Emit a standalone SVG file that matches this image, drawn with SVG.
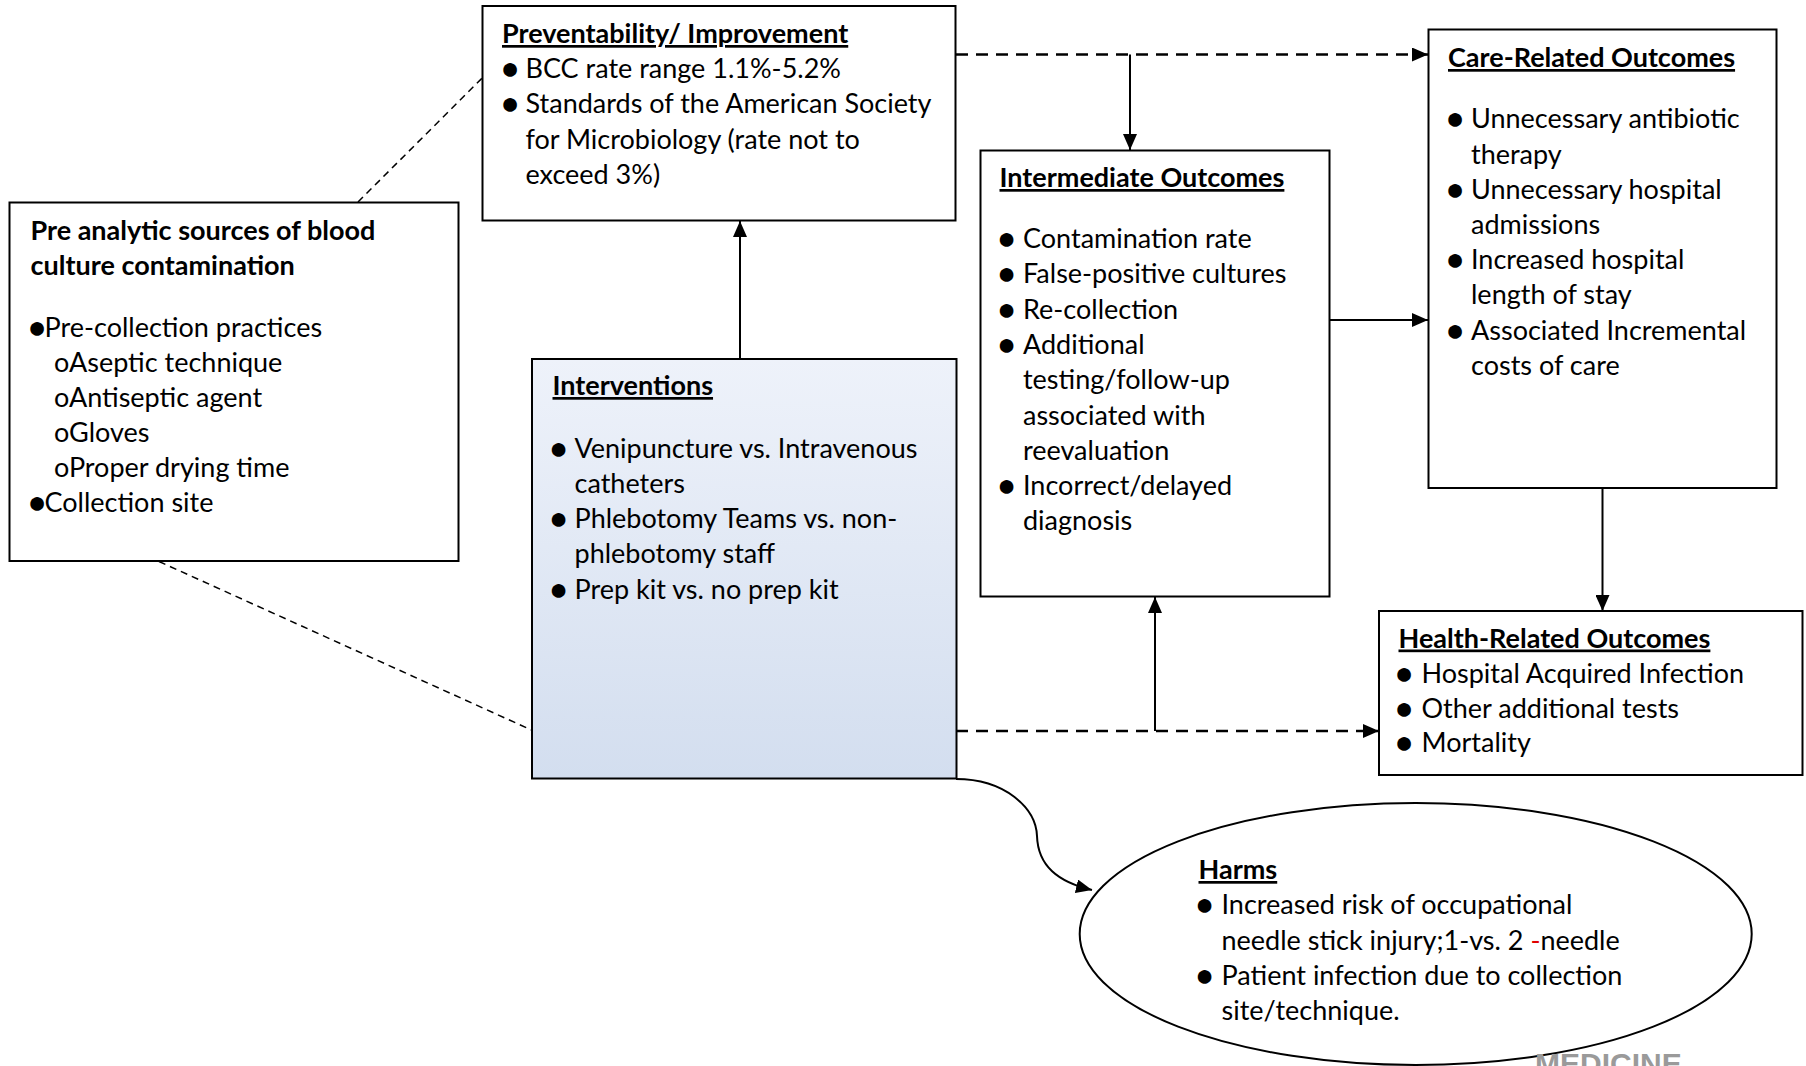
<svg xmlns="http://www.w3.org/2000/svg" width="1806" height="1066" viewBox="0 0 1806 1066">
  <style>
    .box { fill: #ffffff; stroke: #000000; stroke-width: 2; }
    .t { font-family: Lato, "Liberation Sans", sans-serif; font-size: 27px; fill: #000000; }
    .bl { font-family: Lato, "Liberation Sans", sans-serif; font-size: 27px; fill: #000000; stroke: #000000; stroke-width: 3.6; text-anchor: middle; }
    .b { font-weight: bold; }
    .u { text-decoration: underline; }
    .solid { stroke: #000000; stroke-width: 2; fill: none; }
    .dash { stroke: #000000; stroke-width: 2.5; stroke-dasharray: 12 8; fill: none; }
    .dot { stroke: #000000; stroke-width: 1.5; stroke-dasharray: 7 5; fill: none; }
  </style>
  <defs>
    <linearGradient id="intFill" x1="0" y1="0" x2="0" y2="1">
      <stop offset="0" stop-color="#eef2fa"/>
      <stop offset="1" stop-color="#d3deef"/>
    </linearGradient>
    <marker id="arrow" viewBox="0 0 16 14" refX="16" refY="7" markerWidth="16" markerHeight="14" markerUnits="userSpaceOnUse" orient="auto">
      <path d="M0,0 L16,7 L0,14 Z" fill="#000000"/>
    </marker>
  </defs>

  <!-- connectors -->
  <g id="connectors">
    <line class="dash" x1="956" y1="54.5" x2="1428" y2="54.5" marker-end="url(#arrow)"/>
    <line class="solid" x1="1130" y1="54.5" x2="1130" y2="150" marker-end="url(#arrow)"/>
    <line class="solid" x1="740" y1="359" x2="740" y2="221" marker-end="url(#arrow)"/>
    <line class="dot" x1="358" y1="202" x2="482.5" y2="77.7"/>
    <line class="dot" x1="159" y1="561.5" x2="531.5" y2="730"/>
    <line class="dash" x1="956" y1="731" x2="1379" y2="731" marker-end="url(#arrow)"/>
    <line class="solid" x1="1155" y1="731" x2="1155" y2="597" marker-end="url(#arrow)"/>
    <line class="solid" x1="1329" y1="320" x2="1428" y2="320" marker-end="url(#arrow)"/>
    <line class="solid" x1="1602.5" y1="488" x2="1602.5" y2="611" marker-end="url(#arrow)"/>
    <path class="solid" d="M956,779 C1005,779 1036,808 1037,836 C1038,866 1058,882 1092,890" marker-end="url(#arrow)"/>
  </g>

  <!-- Preventability / Improvement -->
  <g id="preventability">
    <rect class="box" x="482.5" y="6" width="473" height="214.5"/>
    <text class="t b u" x="502" y="43">Preventability/ Improvement</text>
    <text class="bl" x="510" y="78">•</text>
    <text class="t" x="525.5" y="78">BCC rate range 1.1%-5.2%</text>
    <text class="bl" x="510" y="113">•</text>
    <text class="t" x="525.5" y="113">Standards of the American Society</text>
    <text class="t" x="525.5" y="148.5">for Microbiology (rate not to</text>
    <text class="t" x="525.5" y="183.5">exceed 3%)</text>
  </g>

  <!-- Pre analytic sources -->
  <g id="preanalytic">
    <rect class="box" x="9.5" y="202.5" width="449" height="358.5"/>
    <text class="t b" x="30.5" y="240">Pre analytic sources of blood</text>
    <text class="t b" x="30.5" y="275">culture contamination</text>
    <text class="bl" x="37" y="336.7">•</text>
    <text class="t" x="44.5" y="336.7">Pre-collection practices</text>
    <text class="t" x="54" y="371.7">oAseptic technique</text>
    <text class="t" x="54" y="406.7">oAntiseptic agent</text>
    <text class="t" x="54" y="441.7">oGloves</text>
    <text class="t" x="54" y="476.7">oProper drying time</text>
    <text class="bl" x="37" y="511.7">•</text>
    <text class="t" x="44.5" y="511.7">Collection site</text>
  </g>

  <!-- Interventions -->
  <g id="interventions">
    <rect x="532" y="359" width="424.5" height="419.5" fill="url(#intFill)" stroke="#000000" stroke-width="2"/>
    <text class="t b u" x="552.5" y="395">Interventions</text>
    <text class="bl" x="558.5" y="458">•</text>
    <text class="t" x="574.5" y="458">Venipuncture vs. Intravenous</text>
    <text class="t" x="574.5" y="493">catheters</text>
    <text class="bl" x="558.5" y="528">•</text>
    <text class="t" x="574.5" y="528">Phlebotomy Teams vs. non-</text>
    <text class="t" x="574.5" y="563">phlebotomy staff</text>
    <text class="bl" x="558.5" y="598.5">•</text>
    <text class="t" x="574.5" y="598.5">Prep kit vs. no prep kit</text>
  </g>

  <!-- Intermediate Outcomes -->
  <g id="intermediate">
    <rect class="box" x="980.5" y="150.5" width="349" height="446"/>
    <text class="t b u" x="999.5" y="187">Intermediate Outcomes</text>
    <text class="bl" x="1006.5" y="248">•</text>
    <text class="t" x="1023" y="248">Contamination rate</text>
    <text class="bl" x="1006.5" y="283">•</text>
    <text class="t" x="1023" y="283">False-positive cultures</text>
    <text class="bl" x="1006.5" y="318.5">•</text>
    <text class="t" x="1023" y="318.5">Re-collection</text>
    <text class="bl" x="1006.5" y="354">•</text>
    <text class="t" x="1023" y="354">Additional</text>
    <text class="t" x="1023" y="389">testing/follow-up</text>
    <text class="t" x="1023" y="424.5">associated with</text>
    <text class="t" x="1023" y="459.5">reevaluation</text>
    <text class="bl" x="1006.5" y="494.5">•</text>
    <text class="t" x="1023" y="494.5">Incorrect/delayed</text>
    <text class="t" x="1023" y="529.5">diagnosis</text>
  </g>

  <!-- Care-Related Outcomes -->
  <g id="care">
    <rect class="box" x="1428.5" y="29.5" width="348" height="458.5"/>
    <text class="t b u" x="1448" y="67">Care-Related Outcomes</text>
    <text class="bl" x="1455" y="128">•</text>
    <text class="t" x="1471" y="128">Unnecessary antibiotic</text>
    <text class="t" x="1471" y="163.5">therapy</text>
    <text class="bl" x="1455" y="198.5">•</text>
    <text class="t" x="1471" y="198.5">Unnecessary hospital</text>
    <text class="t" x="1471" y="233.5">admissions</text>
    <text class="bl" x="1455" y="269">•</text>
    <text class="t" x="1471" y="269">Increased hospital</text>
    <text class="t" x="1471" y="304">length of stay</text>
    <text class="bl" x="1455" y="339.5">•</text>
    <text class="t" x="1471" y="339.5">Associated Incremental</text>
    <text class="t" x="1471" y="375">costs of care</text>
  </g>

  <!-- Health-Related Outcomes -->
  <g id="health">
    <rect class="box" x="1379" y="611" width="423.5" height="164"/>
    <text class="t b u" x="1398.5" y="647.5">Health-Related Outcomes</text>
    <text class="bl" x="1404" y="683">•</text>
    <text class="t" x="1421.5" y="683">Hospital Acquired Infection</text>
    <text class="bl" x="1404" y="717.5">•</text>
    <text class="t" x="1421.5" y="717.5">Other additional tests</text>
    <text class="bl" x="1404" y="752">•</text>
    <text class="t" x="1421.5" y="752">Mortality</text>
  </g>

  <!-- Harms -->
  <g id="harms">
    <ellipse cx="1415.7" cy="934" rx="336" ry="131" fill="#ffffff" stroke="#000000" stroke-width="2"/>
    <text class="t b u" x="1198.5" y="879">Harms</text>
    <text class="bl" x="1204.5" y="914">•</text>
    <text class="t" x="1221.5" y="914">Increased risk of occupational</text>
    <text class="t" x="1221.5" y="949.5">needle stick injury;1-vs. 2 <tspan fill="#e00000">-</tspan>needle</text>
    <text class="bl" x="1204.5" y="984.5">•</text>
    <text class="t" x="1221.5" y="984.5">Patient infection due to collection</text>
    <text class="t" x="1221.5" y="1019.5">site/technique.</text>
  </g>

  <!-- publisher mark along the lower edge -->
  <text x="1535" y="1074" font-family="Liberation Sans, sans-serif" font-size="30" font-weight="bold" fill="#9a9a9a">MEDICINE</text>
</svg>
